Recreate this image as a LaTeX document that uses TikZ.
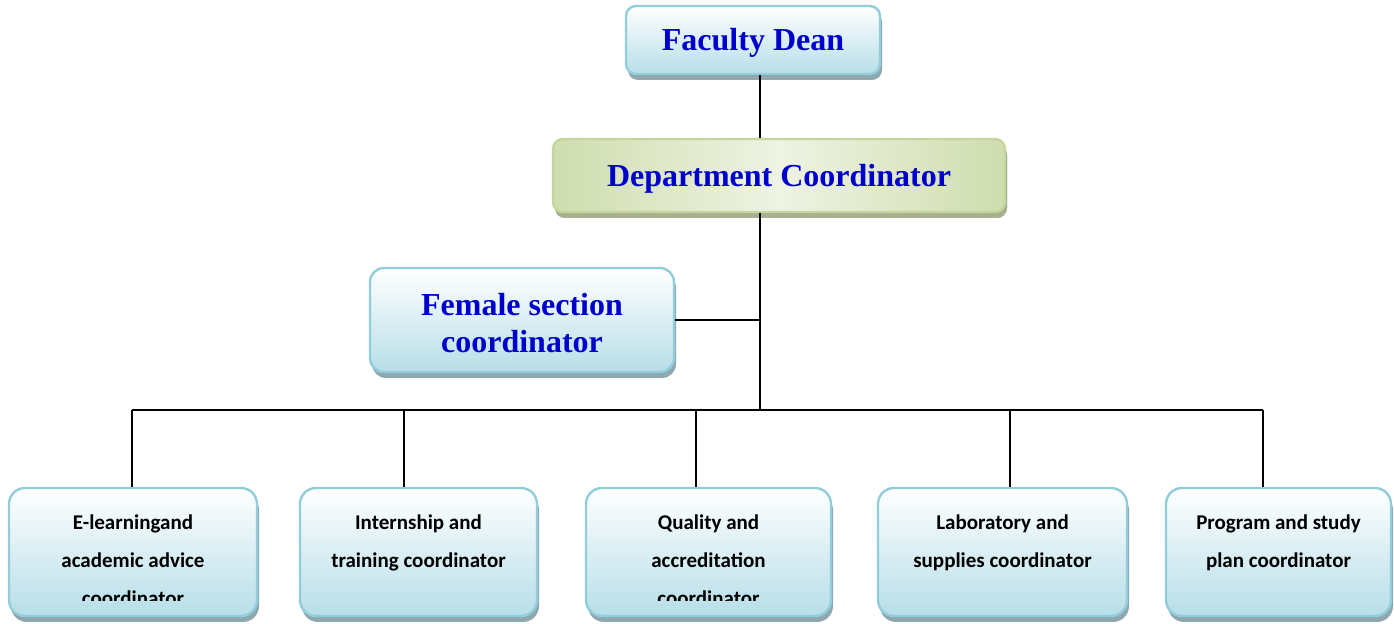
\documentclass[tikz,border=0pt]{standalone}
\usepackage{fontspec}
\setmainfont{Liberation Serif}
\newfontfamily\unitfont{Carlito}
\usetikzlibrary{positioning, shadows, calc}
\usepackage{xcolor}
\definecolor{orgblue}{HTML}{0000CC}
\definecolor{aquafill}{HTML}{B7DEE8}
\definecolor{aquaedge}{HTML}{92CDDC}
\definecolor{aquashadow}{HTML}{8FA7AE}
\definecolor{olivefill}{HTML}{CFDDAE}
\definecolor{olivelight}{HTML}{EEF3E3}
\definecolor{oliveedge}{HTML}{C3D69B}
\definecolor{oliveshadow}{HTML}{A7B092}

\newcommand{\headstrut}{\rule{0pt}{14pt}}

\begin{document}
\begin{tikzpicture}[x=0.5pt, y=-0.5pt,
    headbox/.style={rounded corners=5pt, draw=aquaedge, line width=1.2pt,
        top color=white, bottom color=aquafill,
        drop shadow={shadow xshift=1pt, shadow yshift=-3pt, fill=aquashadow, opacity=1},
        text=orgblue, font=\fontsize{16}{18.5}\selectfont\bfseries, align=center},
    deptbox/.style={headbox, draw=oliveedge, left color=olivefill, right color=olivefill,
        middle color=olivelight,
        drop shadow={shadow xshift=1pt, shadow yshift=-3pt, fill=oliveshadow, opacity=1}},
    unitbox/.style={headbox, rounded corners=8pt, minimum height=64pt},
    unittext/.style={anchor=north, inner sep=0pt, align=center,
        font=\unitfont\bfseries\fontsize{10.5}{19}\selectfont},
    link/.style={line width=1pt}]
    \useasboundingbox (0,0) rectangle (1394,624);

    \node[headbox, minimum width=127pt, minimum height=34pt] (dean) at (753,40) {\headstrut Faculty Dean};
    \node[deptbox, minimum width=226pt, minimum height=36.5pt] (dept) at (779,175.5) {\headstrut Department Coordinator};
    \node[headbox, rounded corners=7pt, minimum width=152pt, minimum height=52pt] (female) at (522,320) {\headstrut Female section\\coordinator};
    \coordinate (bus) at (760,410);

    \foreach \name/\cx/\boxw/\drop/\txt in {
        elearn/133/124/-0.5/{E-learningand\\academic advice\\coordinator},
        intern/418.5/118.5/-7.25/{Internship and\\training coordinator},
        quality/708.5/122.5/-6.25/{Quality and\\accreditation\\coordinator},
        lab/1002.5/124.5/3.75/{Laboratory and\\supplies coordinator},
        plan/1278.5/112.5/-7.75/{Program and study\\plan coordinator}} {
        \node[unitbox, minimum width=\boxw pt] (\name) at (\cx,552) {};
        \begin{scope}
            \clip (\name.north west) rectangle ([yshift=8.5pt]\name.south east);
            \node[unittext] (\name-txt) at ([yshift=-14pt]\name.north) {\txt};
        \end{scope}
        \draw[link] ([xshift=\drop pt]\name.north) -- ([xshift=\drop pt]\name.north |- bus);
    }

    \draw[link] (dean.south -| bus) -- (dept.north -| bus);
    \draw[link] (dept.south -| bus) -- (bus);
    \draw[link] (female.east) -- (female.east -| bus);
    \draw[link] ([xshift=-0.5pt]elearn.north |- bus) -- ([xshift=-7.75pt]plan.north |- bus);
\end{tikzpicture}
\end{document}
